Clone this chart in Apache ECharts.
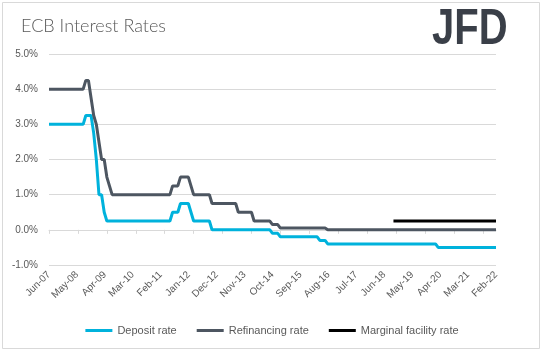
<!DOCTYPE html>
<html>
<head>
<meta charset="utf-8">
<script src="https://cdn.jsdelivr.net/npm/echarts@6/dist/echarts.min.js"></script>
<style>
  html, body { margin: 0; padding: 0; background: #fff; }
  #chart { width: 544px; height: 352px; }
</style>
</head>
<body>
<div id="chart"></div>
<script>
// monthly points, first to last month shown by the lines
var firstMonth = 'Jun-07';
var monthCount = 171; // Jun-07 .. Aug-21

// labels printed under the chart
var tickLabels = ['Jun-07','May-08','Apr-09','Mar-10','Feb-11','Jan-12','Dec-12','Nov-13','Oct-14',
                  'Sep-15','Aug-16','Jul-17','Jun-18','May-19','Apr-20','Mar-21','Feb-22'];

// rate from that month on (%)
var depositRate = [['Jun-07',3.00],['Aug-08',3.25],['Nov-08',2.75],['Dec-08',2.00],['Jan-09',1.00],
                   ['Mar-09',0.50],['Apr-09',0.25],['May-11',0.50],['Aug-11',0.75],['Dec-11',0.50],
                   ['Jan-12',0.25],['Aug-12',0.00],['Jul-14',-0.10],['Oct-14',-0.20],['Jan-16',-0.30],
                   ['Apr-16',-0.40],['Oct-19',-0.50]];
var refiRate = [['Jun-07',4.00],['Aug-08',4.25],['Oct-08',3.75],['Nov-08',3.25],['Dec-08',3.00],
                ['Jan-09',2.50],['Feb-09',2.00],['Apr-09',1.50],['May-09',1.25],['Jun-09',1.00],
                ['May-11',1.25],['Aug-11',1.50],['Dec-11',1.25],['Jan-12',1.00],['Aug-12',0.75],
                ['Jun-13',0.50],['Dec-13',0.25],['Jul-14',0.15],['Oct-14',0.05],['Apr-16',0.00]];
var marginalRate = [['May-18',0.25]];

var monthNames = ['Jan','Feb','Mar','Apr','May','Jun','Jul','Aug','Sep','Oct','Nov','Dec'];
var categories = [];
(function () {
  var m = monthNames.indexOf(firstMonth.slice(0,3));
  var y = parseInt(firstMonth.slice(4), 10);
  for (var i = 0; i < monthCount; i++) {
    categories.push(monthNames[m] + '-' + (y < 10 ? '0' + y : y));
    m++;
    if (m > 11) { m = 0; y++; }
  }
})();

// run list -> one value per month
var expand = function (runs) {
  var out = [];
  var cur = null, k = 0;
  for (var i = 0; i < categories.length; i++) {
    while (k < runs.length && categories.indexOf(runs[k][0]) <= i) { cur = runs[k][1]; k++; }
    out.push(cur);
  }
  return out;
};

var txt = '#595959';
var gridCol = '#d9d9d9';
var font = 'Liberation Sans';

var myChart = echarts.init(document.getElementById('chart'));
var option = {
  backgroundColor: '#ffffff',
  animation: false,
  title: {
    text: 'ECB Interest Rates',
    left: 16,
    top: 12,
    textStyle: { fontFamily: 'Lato', fontWeight: 300, fontSize: 18, color: txt }
  },
  graphic: [
    {
      type: 'rect',
      shape: { x: 2.5, y: 2.5, width: 537, height: 346 },
      style: { fill: 'none', stroke: gridCol, lineWidth: 1 },
      silent: true
    },
    {
      type: 'text',
      x: 432, y: 5,
      scaleX: 0.8,
      style: { text: 'JFD', font: 'bold 50px "Liberation Sans"', fill: '#3a3f48', verticalAlign: 'top' }
    }
  ],
  legend: {
    left: 'center',
    top: 320,
    icon: 'rect',
    itemWidth: 27,
    itemHeight: 3,
    itemGap: 20,
    textStyle: { fontFamily: font, fontSize: 11, color: txt },
    data: ['Deposit rate', 'Refinancing rate', 'Marginal facility rate']
  },
  grid: { left: 49, right: 48, top: 54, bottom: 87, containLabel: false },
  xAxis: [
    {
      type: 'category',
      data: categories,
      boundaryGap: false,
      axisLine: { onZero: true, lineStyle: { color: gridCol } },
      axisTick: { interval: 10, length: 4, lineStyle: { color: gridCol } },
      axisLabel: { show: false },
      splitLine: { show: false }
    },
    {
      type: 'category',
      data: tickLabels,
      boundaryGap: false,
      position: 'bottom',
      axisLine: { show: false, onZero: false },
      axisTick: { show: false },
      axisLabel: { interval: 0, rotate: 45, margin: 8, fontFamily: font, fontSize: 10, color: txt },
      splitLine: { show: false }
    }
  ],
  yAxis: {
    type: 'value',
    min: -1,
    max: 5,
    interval: 1,
    axisLine: { show: false },
    axisTick: { show: false },
    axisLabel: {
      margin: 11,
      fontFamily: font, fontSize: 10, color: txt,
      formatter: function (v) { return v.toFixed(1) + '%'; }
    },
    splitLine: { lineStyle: { color: gridCol } }
  },
  series: [
    {
      name: 'Deposit rate', type: 'line', data: expand(depositRate),
      symbol: 'none', lineStyle: { width: 3, color: '#00b2dc' }, itemStyle: { color: '#00b2dc' }
    },
    {
      name: 'Refinancing rate', type: 'line', data: expand(refiRate),
      symbol: 'none', lineStyle: { width: 3, color: '#4d5661' }, itemStyle: { color: '#4d5661' }
    },
    {
      name: 'Marginal facility rate', type: 'line', data: expand(marginalRate),
      symbol: 'none', lineStyle: { width: 3, color: '#000000' }, itemStyle: { color: '#000000' }
    }
  ]
};
myChart.setOption(option);
</script>
</body>
</html>
